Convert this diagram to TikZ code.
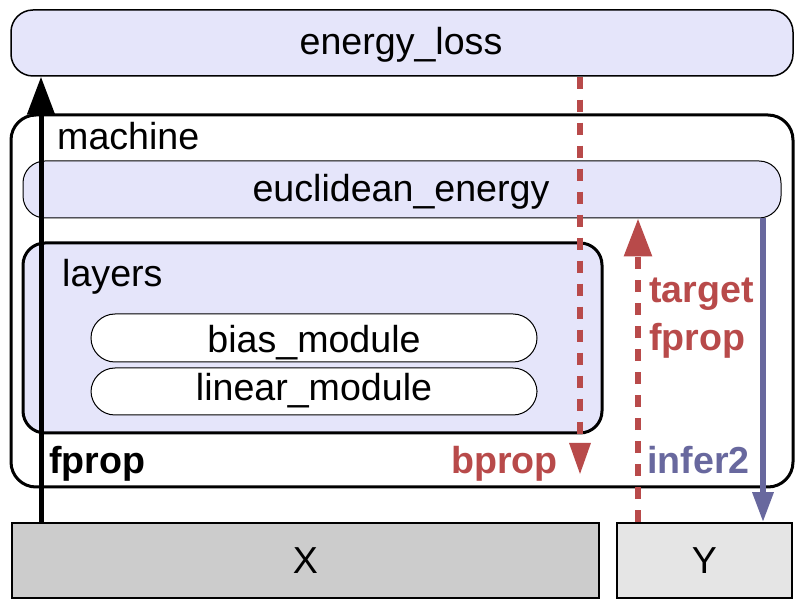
\documentclass[tikz,border=0pt]{standalone}
\usepackage{fontspec}
\setmainfont{Liberation Sans}
\usepackage{xcolor}
\usetikzlibrary{arrows.meta}
\usetikzlibrary{positioning}
\usetikzlibrary{calc}

\definecolor{lav}{HTML}{E5E5FA}
\definecolor{bred}{HTML}{B84A4A}
\definecolor{iblue}{HTML}{68689E}
\definecolor{xgray}{HTML}{CCCCCC}
\definecolor{ygray}{HTML}{E5E5E5}

\begin{document}
\begin{tikzpicture}[x=1pt, y=-1pt,
	every node/.style={inner sep=0pt, font=\fontsize{37.6}{44}\selectfont},
	modbox/.style={draw, rounded corners=#1, line width=1pt},
	lbl/.style={anchor=base west},
	txt/.style={anchor=base},
	fwd/.style={line width=5pt, -{Triangle[length=38pt, width=27pt]}},
	redash/.style={bred, line width=6pt, dash pattern=on 12pt off 11pt}]

\useasboundingbox (0,0) rectangle (804,609);

% outer boxes
\node[draw, rounded corners=25pt, line width=3pt, minimum width=782pt, minimum height=372pt] (machine) at (402,301) {};
\node[modbox=22pt, fill=lav, line width=1.5pt, minimum width=782pt, minimum height=66pt] (loss) at (402,43) {};
\node[modbox=22pt, fill=lav, minimum width=758pt, minimum height=57pt] (euclid) at (402,189.5) {};
\node[draw, fill=lav, rounded corners=22pt, line width=3pt, minimum width=579pt, minimum height=190pt] (layers) at (312.5,338) {};

\node[txt] (losstxt) at ($(loss.center)+(-1,12)$) {energy\_loss};
\node[txt] (euclidtxt) at ($(euclid.center)+(-1,12.5)$) {euclidean\_energy};
\node[lbl] (machinelbl) at (57,150) {machine};
\node[lbl] (layerslbl) at (62,287) {layers};

% modules
\node[modbox=24pt, fill=white, minimum width=446pt, minimum height=48pt] (bias) at (314,338) {};
\node[modbox=24pt, fill=white, minimum width=446pt, minimum height=47pt] (linear) at (314,391.5) {};
\node[txt] (biastxt) at ($(bias.center)+(0,15)$) {bias\_module};
\node[txt] (lineartxt) at ($(linear.center)+(0,9)$) {linear\_module};

% data
\node[draw, fill=xgray, line width=1.5pt, minimum width=587pt, minimum height=75pt] (X) at (305.5,560.5) {X};
\node[draw, fill=ygray, line width=1.5pt, minimum width=175pt, minimum height=75pt] (Y) at (704.5,560.5) {Y};

% arrows
\coordinate (fx) at (41,0);
\coordinate (bx) at (580,0);
\coordinate (tx) at (638,0);
\coordinate (ix) at (763,0);
\coordinate (bend) at (580,475);

\draw[fwd] (fx |- X.north) -- (fx |- loss.south);
\draw[redash, -{Triangle[length=32pt, width=20pt]}] (bx |- loss.south) -- (bend);
\draw[redash, -{Triangle[length=38pt, width=27pt]}] (tx |- Y.north) -- (tx |- euclid.south);
\draw[iblue, line width=6pt, -{Triangle[length=30pt, width=20pt]}] (ix |- euclid.south) -- (ix |- Y.north);

% labels
\node[lbl, font=\fontsize{37.6}{44}\selectfont\bfseries] (fproplbl) at (49,474) {fprop};
\node[lbl, bred, font=\fontsize{37.6}{44}\selectfont\bfseries] (bproplbl) at (451,474) {bprop};
\node[lbl, iblue, font=\fontsize{37.6}{44}\selectfont\bfseries] (inferlbl) at (647,474) {infer2};
\node[lbl, bred, font=\fontsize{37.6}{44}\selectfont\bfseries] (targetlbl) at (649,303) {target};
\node[lbl, bred, font=\fontsize{37.6}{44}\selectfont\bfseries] (tfproplbl) at (649,351) {fprop};

\end{tikzpicture}
\end{document}
